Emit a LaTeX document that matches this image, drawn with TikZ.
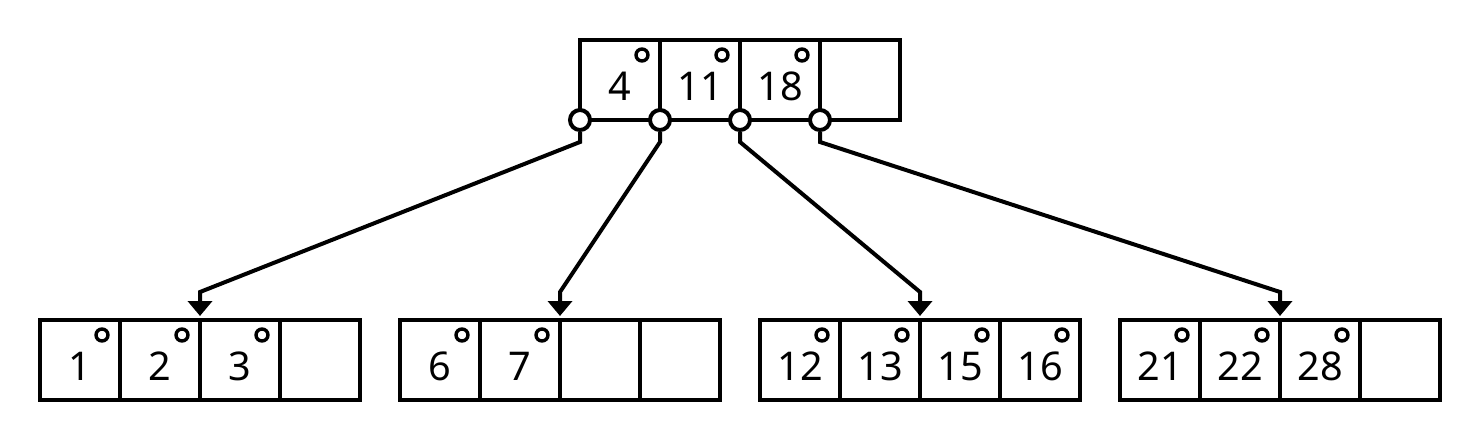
\documentclass[tikz,border=0pt]{standalone}
\usepackage{fontspec}
\setmainfont{Noto Sans}
\usetikzlibrary{positioning,arrows.meta}
\tikzset{
  cell/.style = { draw, line width=2pt, minimum width=40pt, minimum height=40pt,
    inner sep=0pt, outer sep=0pt, text height=20pt, text depth=0pt,
    font=\fontsize{19.8}{20}\selectfont },
  key/.style  = { draw, circle, line width=1.7pt, inner sep=0pt, minimum size=6pt },
  ptr/.style  = { draw, circle, line width=2pt, fill=white, inner sep=0pt, minimum size=10pt },
  lnk/.style  = { line width=2pt, shorten >=2pt, -{Triangle[width=12pt,length=7.5pt]} }
}
\begin{document}
\begin{tikzpicture}[x=0.5pt,y=-0.5pt]
  \useasboundingbox (0,0) rectangle (1480,440);
  % root: 4 11 18
  \foreach \k [count=\i] in {4,11,18,{}}
    \node[cell] (t\i) at (540+80*\i,80) {\k};
  \foreach \i in {1,2,3}
    \node[key] (tk\i) at ([shift={(-18,15)}]t\i.north east) {};
  % leaves
  \foreach \k [count=\i] in {1,2,3,{}}
    \node[cell] (a\i) at (80*\i,360) {\k};
  \foreach \k [count=\i] in {6,7,{},{}}
    \node[cell] (b\i) at (360+80*\i,360) {\k};
  \foreach \k [count=\i] in {12,13,15,16}
    \node[cell] (c\i) at (720+80*\i,360) {\k};
  \foreach \k [count=\i] in {21,22,28,{}}
    \node[cell] (d\i) at (1080+80*\i,360) {\k};
  \foreach \i in {1,2,3}
    \node[key] (ak\i) at ([shift={(-18,15)}]a\i.north east) {};
  \foreach \i in {1,2}
    \node[key] (bk\i) at ([shift={(-18,15)}]b\i.north east) {};
  \foreach \i in {1,...,4}
    \node[key] (ck\i) at ([shift={(-18,15)}]c\i.north east) {};
  \foreach \i in {1,2,3}
    \node[key] (dk\i) at ([shift={(-18,15)}]d\i.north east) {};
  % child pointers
  \foreach \i in {1,...,4}
    \node[ptr] (tp\i) at (t\i.south west) {};
  \draw[lnk] (tp1.south) -- ++(0,10) -- ([shift={(0,-28)}]a3.north west) -- (a3.north west);
  \draw[lnk] (tp2.south) -- ++(0,10) -- ([shift={(0,-28)}]b3.north west) -- (b3.north west);
  \draw[lnk] (tp3.south) -- ++(0,10) -- ([shift={(0,-28)}]c3.north west) -- (c3.north west);
  \draw[lnk] (tp4.south) -- ++(0,10) -- ([shift={(0,-28)}]d3.north west) -- (d3.north west);
\end{tikzpicture}
\end{document}
